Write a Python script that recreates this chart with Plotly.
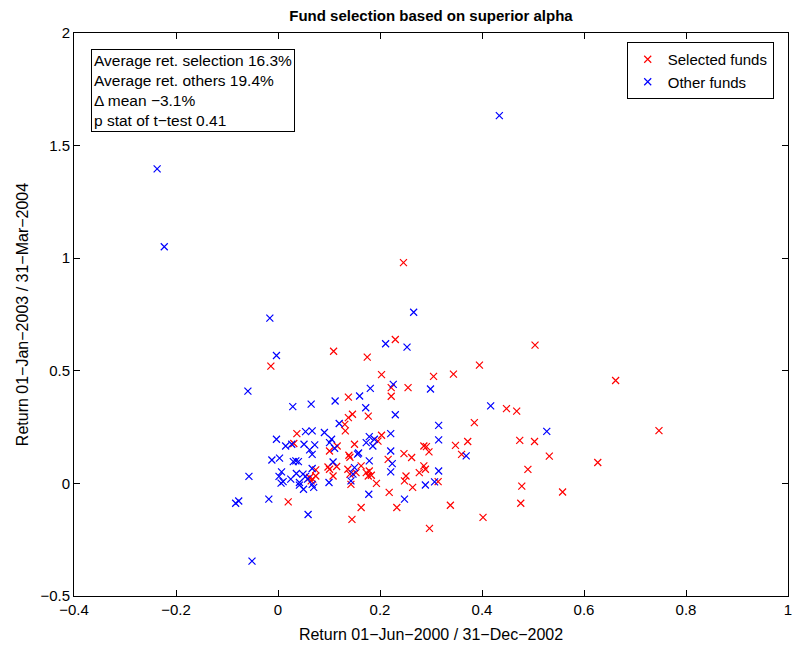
import plotly.graph_objects as go

sel_x = [0.246, -0.014, 0.109, 0.175, 0.230, 0.203, 0.305, 0.344,
         0.222, 0.255, 0.222, 0.138, 0.177, 0.146, 0.138, 0.131, 0.132, 0.116, 0.101, 0.150,
         0.196, 0.203, 0.139, 0.141, 0.098, 0.101, 0.115, 0.108, 0.137, 0.141, 0.153, 0.143,
         0.163, 0.173, 0.179, 0.183, 0.177, 0.193, 0.163, 0.145, 0.216, 0.247, 0.262, 0.251,
         0.248, 0.264, 0.218, 0.233,
         0.395, 0.448, 0.468, 0.385, 0.372, 0.348, 0.286, 0.291, 0.296, 0.360, 0.286, 0.277,
         0.289, 0.314, 0.338, 0.402, 0.297,
         0.504, 0.662, 0.474, 0.503, 0.532, 0.627, 0.490, 0.478, 0.558, 0.476, 0.747,
         0.037, 0.031, 0.074, 0.062, 0.065, 0.068, 0.074, 0.020]
sel_y = [0.980, 0.521, 0.587, 0.561, 0.639, 0.483, 0.475, 0.485,
         0.425, 0.425, 0.387, 0.383, 0.299, 0.307, 0.292, 0.262, 0.233, 0.166, 0.144, 0.174,
         0.188, 0.214, 0.125, 0.116, 0.073, 0.063, 0.075, 0.033, 0.063, 0.041, 0.048, -0.004,
         0.078, 0.048, 0.055, 0.036, 0.033, 0.000, -0.107, -0.160, 0.107, 0.132, 0.115, 0.033,
         0.011, -0.018, -0.040, -0.107,
         0.525, 0.332, 0.321, 0.270, 0.186, 0.169, 0.166, 0.163, 0.140, 0.129, 0.078, 0.048,
         0.063, 0.008, -0.097, -0.151, -0.200,
         0.614, 0.457, 0.191, 0.186, 0.121, 0.093, 0.062, -0.012, -0.038, -0.088, 0.234,
         0.221, 0.177, 0.060, 0.026, 0.011, 0.019, 0.033, -0.082]

oth_x = [-0.237, -0.223, 0.434, 0.266, -0.016, -0.003, 0.211, 0.253,
         0.226, 0.181, 0.160, 0.112, 0.172, 0.230, 0.120, 0.091, 0.105, 0.101, 0.111, 0.179,
         0.189, 0.173, 0.186, 0.221, 0.158, 0.156, 0.179, 0.108, 0.100, 0.150, 0.147, 0.143,
         0.178, 0.221, 0.224, 0.221, 0.248,
         0.299, 0.417, 0.315, 0.315, 0.369, 0.315, 0.307, 0.289,
         0.527,
         -0.059, 0.029, 0.065, 0.054, 0.067, -0.003, 0.015, 0.027, 0.051, 0.072, 0.062, 0.067,
         -0.012, 0.003, 0.030, 0.035, 0.040, 0.067, -0.057, 0.007, 0.002, 0.010, 0.006,
         0.025, 0.036, 0.042, 0.049, 0.054, 0.058, 0.042, 0.050, 0.070, 0.067, -0.083, -0.077,
         -0.018, 0.059, -0.051]
oth_y = [1.397, 1.051, 1.633, 0.760, 0.734, 0.568, 0.620, 0.605,
         0.440, 0.422, 0.388, 0.366, 0.336, 0.305, 0.266, 0.226, 0.196, 0.181, 0.156, 0.208,
         0.196, 0.181, 0.166, 0.221, 0.135, 0.130, 0.100, 0.095, 0.004, 0.070, 0.041, 0.011,
         -0.048, 0.144, 0.088, 0.051, -0.070,
         0.419, 0.344, 0.258, 0.193, 0.122, 0.055, 0.007, -0.007,
         0.231,
         0.410, 0.341, 0.352, 0.230, 0.233, 0.196, 0.166, 0.174, 0.174, 0.171, 0.149, 0.129,
         0.104, 0.112, 0.097, 0.100, 0.097, 0.066, 0.031, 0.051, 0.031, 0.008, 0.001,
         0.019, 0.044, 0.004, 0.041, 0.031, 0.019, -0.008, -0.026, -0.018, -0.004, -0.088, -0.078,
         -0.070, -0.138, -0.345]

x_ticks = [-0.4, -0.2, 0, 0.2, 0.4, 0.6, 0.8, 1]
x_labels = ["\u22120.4", "\u22120.2", "0", "0.2", "0.4", "0.6", "0.8", "1"]
y_ticks = [-0.5, 0, 0.5, 1, 1.5, 2]
y_labels = ["\u22120.5", "0", "0.5", "1", "1.5", "2"]

stats_lines = ["Average ret. selection 16.3%", "Average ret. others 19.4%",
               "\u0394 mean \u22123.1%", "p stat of t\u2212test 0.41"]

FONT = "Liberation Sans, Arial, Helvetica, sans-serif"

fig = go.Figure()
fig.add_trace(go.Scatter(x=sel_x, y=sel_y, mode="markers", name="Selected funds",
                         marker=dict(symbol="x-thin", size=7, color="#ff0000",
                                     line=dict(width=1.2, color="#ff0000"))))
fig.add_trace(go.Scatter(x=oth_x, y=oth_y, mode="markers", name="Other funds",
                         marker=dict(symbol="x-thin", size=7, color="#0000ff",
                                     line=dict(width=1.2, color="#0000ff"))))

axis_common = dict(showline=True, linecolor="black", linewidth=1, mirror="ticks",
                   ticks="inside", ticklen=6, tickcolor="black", showgrid=False,
                   zeroline=False, ticklabeloverflow="allow",
                   tickfont=dict(size=15, color="black", family=FONT))

fig.update_layout(
    width=792, height=650,
    margin=dict(l=74, r=0, t=33, b=54),
    paper_bgcolor="white", plot_bgcolor="white",
    font=dict(family=FONT, color="black"),
    title=dict(text="<b>Fund selection based on superior alpha</b>", x=0.5, xref="paper",
               y=1 - 16 / 650, yanchor="middle", font=dict(size=15, color="black")),
    xaxis=dict(range=[-0.4, 1], tickvals=x_ticks, ticktext=x_labels,
               title=dict(text="Return 01\u2212Jun\u22122000 / 31\u2212Dec\u22122002",
                          font=dict(size=16), standoff=11), **axis_common),
    yaxis=dict(range=[-0.5, 2], tickvals=y_ticks, ticktext=y_labels,
               title=dict(text="Return 01\u2212Jan\u22122003 / 31\u2212Mar\u22122004",
                          font=dict(size=16), standoff=7), **axis_common),
    legend=dict(x=0.98, y=0.984, xanchor="right", yanchor="top",
                bordercolor="black", borderwidth=1, bgcolor="white",
                font=dict(size=15, color="black"), itemwidth=30, tracegroupgap=0),
    showlegend=True,
    annotations=[dict(text="<br>".join(stats_lines), xref="paper", yref="paper",
                      x=(90.7 - 74) / 718, y=(596.3 - 49.3) / 563.3, xanchor="left", yanchor="top",
                      showarrow=False, align="left", bordercolor="black", borderwidth=1,
                      borderpad=2, bgcolor="white", font=dict(size=15.5, color="black"))],
)

fig.write_html("out.html")
